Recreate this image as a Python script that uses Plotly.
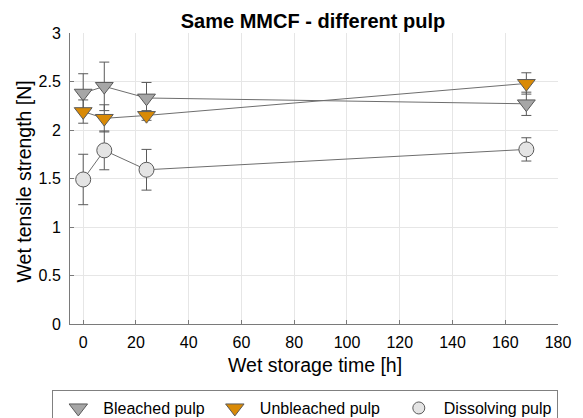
import plotly.graph_objects as go

time_h = [0, 8, 24, 168]
bleached = [2.38, 2.45, 2.33, 2.27]
bleached_err = [0.20, 0.25, 0.16, 0.12]
unbleached = [2.19, 2.12, 2.15, 2.48]
unbleached_err = [0.12, 0.14, 0.05, 0.11]
dissolving = [1.49, 1.79, 1.59, 1.80]
dissolving_err = [0.26, 0.20, 0.21, 0.12]
legend_names = ["Bleached pulp", "Unbleached pulp\u00a0\u00a0", "Dissolving pulp"]

series = [
    ("Bleached pulp", bleached, bleached_err, "triangle-down", "#a6a6a6"),
    ("Unbleached pulp", unbleached, unbleached_err, "triangle-down", "#d98a06"),
    ("Dissolving pulp", dissolving, dissolving_err, "circle", "#e4e4e4"),
]

FONT = "Liberation Sans, Arial, sans-serif"
W, H = 583, 418
ML, MR, MT, MB = 70, 24.7, 32.7, 93.7
PW, PH = W - ML - MR, H - MT - MB

fig = go.Figure()

# connecting lines
for name, y, err, sym, col in series:
    fig.add_trace(go.Scatter(x=time_h, y=y, mode="lines",
                             line=dict(color="#6e6e6e", width=1),
                             showlegend=False, hoverinfo="skip"))

# markers with error bars
for name, y, err, sym, col in series:
    fig.add_trace(go.Scatter(
        x=time_h, y=y, mode="markers", name=name, showlegend=False,
        marker=dict(symbol=sym, size=15.5 if sym != "circle" else 15, color=col,
                    line=dict(color="#5a5a5a", width=1)),
        error_y=dict(type="data", array=err, visible=True, color="#5a5a5a",
                     thickness=1, width=5),
    ))

# legend entries (markers only)
for (name, y, err, sym, col), lname in zip(series, legend_names):
    fig.add_trace(go.Scatter(
        x=[None], y=[None], mode="markers", name=lname,
        marker=dict(symbol=sym, size=17 if sym != "circle" else 12, color=col,
                    line=dict(color="#5a5a5a", width=1)),
    ))

axis_common = dict(
    showgrid=True, gridcolor="#e6e6e6", gridwidth=1,
    showline=True, linecolor="#7a7a7a", linewidth=1,
    ticks="inside", ticklen=4, tickcolor="#7a7a7a",
    zeroline=False, mirror=False, automargin=False,
    tickfont=dict(size=16, color="black"),
)

fig.update_layout(
    width=W, height=H,
    margin=dict(l=ML, r=MR, t=MT, b=MB, autoexpand=False),
    paper_bgcolor="white", plot_bgcolor="white",
    font=dict(family=FONT, size=16, color="black"),
    title=dict(text="<b>Same MMCF - different pulp</b>", x=313 / W, xanchor="center",
               xref="container", yref="container",
               y=1 - 27.5 / H, yanchor="bottom", font=dict(size=20, family=FONT, color="black")),
    xaxis=dict(range=[-5, 180], tickmode="array", tickvals=list(range(0, 181, 20)),
               ticklabelstandoff=4, **axis_common),
    yaxis=dict(range=[0, 3], tickmode="array", tickvals=[0, 0.5, 1, 1.5, 2, 2.5, 3],
               ticktext=["0", "0.5", "1", "1.5", "2", "2.5", "3"],
               ticklabelstandoff=5, **axis_common),
    legend=dict(orientation="h", xref="paper", yref="paper",
                x=(52.3 - ML) / PW, y=(H - MB - 390.5) / PH, xanchor="left", yanchor="top",
                bordercolor="#808080", borderwidth=1, bgcolor="white",
                font=dict(size=16, color="black"), itemwidth=40,
                tracegroupgap=0),
    annotations=[
        dict(text="Wet storage time [h]", xref="paper", yref="paper",
             x=(315.3 - ML) / PW, y=(H - MB - 365) / PH, xanchor="center", yanchor="middle",
             showarrow=False, font=dict(size=19.5, family=FONT, color="black")),
        dict(text="Wet tensile strength [N]", xref="paper", yref="paper",
             x=(24 - ML) / PW, y=(H - MB - 181.5) / PH, xanchor="center", yanchor="middle",
             textangle=-90, showarrow=False,
             font=dict(size=19.5, family=FONT, color="black")),
    ],
)

fig.write_html("out.html", config={"displayModeBar": False},
               post_script="document.body.style.margin='0';")
